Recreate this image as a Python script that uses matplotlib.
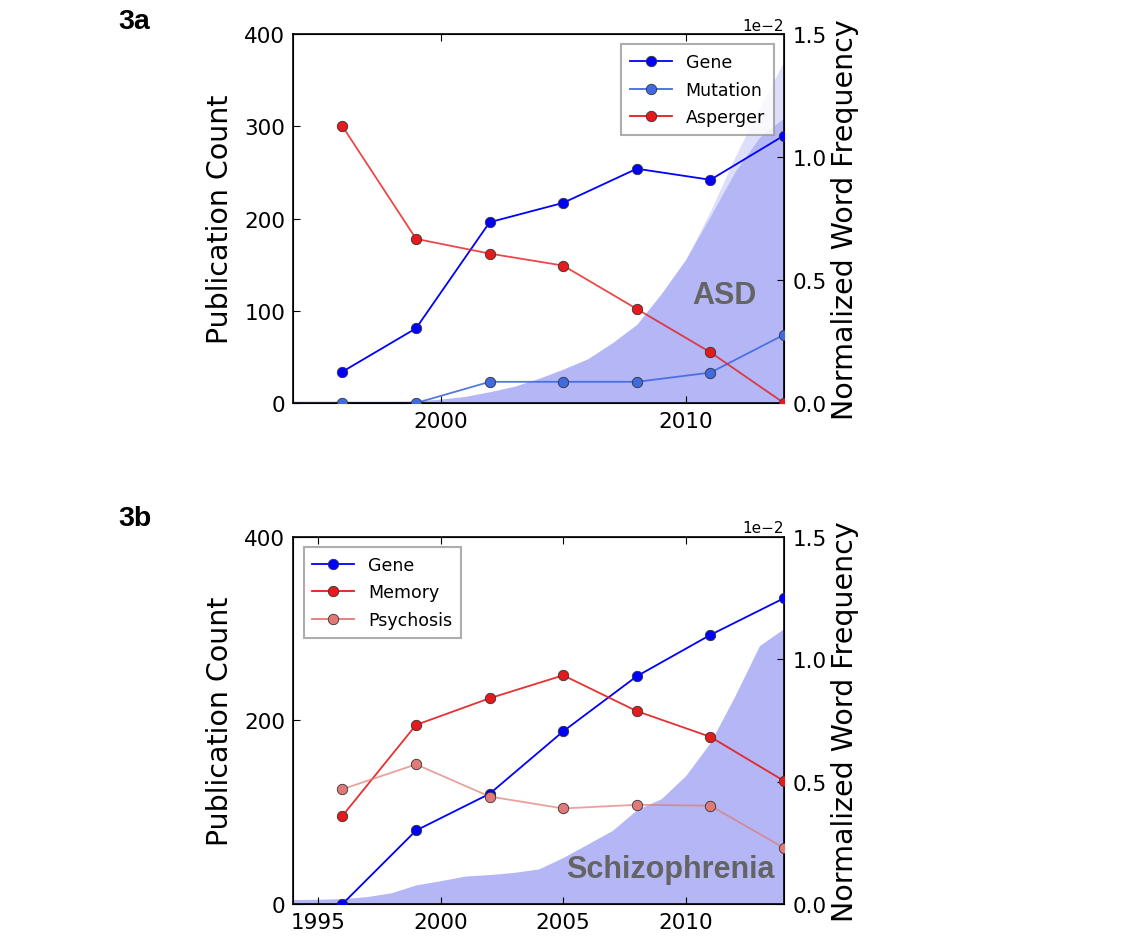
import numpy as np
import matplotlib
matplotlib.use('Agg')
import matplotlib.pyplot as plt

# publication counts (sampled every 3 years)
pub_years = [1996, 1999, 2002, 2005, 2008, 2011, 2014]

asd_gene = [34, 81, 196, 217, 254, 242, 290]
asd_mutation = [0, 0, 23, 23, 23, 33, 74]
asd_asperger = [300, 178, 162, 149, 102, 55, 0]

scz_gene = [0, 80, 120, 188, 248, 293, 333]
scz_memory = [96, 195, 224, 249, 210, 182, 134]
scz_psychosis = [125, 152, 117, 104, 108, 107, 61]

# normalized word frequency, yearly, in units of 1e-2
freq_years = list(range(1994, 2015))
asd_freq = [0.008, 0.008, 0.008, 0.008, 0.008, 0.009, 0.016, 0.027, 0.046, 0.068, 0.100,
            0.138, 0.180, 0.245, 0.320, 0.445, 0.585, 0.760, 0.940, 1.080, 1.160]
asd_freq_outer = [0.008, 0.008, 0.008, 0.008, 0.008, 0.009, 0.016, 0.027, 0.046, 0.068, 0.100,
                  0.138, 0.180, 0.245, 0.320, 0.445, 0.585, 0.780, 1.000, 1.200, 1.390]
scz_freq = [0.018, 0.019, 0.022, 0.030, 0.046, 0.078, 0.095, 0.114, 0.120, 0.129, 0.143,
            0.190, 0.245, 0.300, 0.385, 0.430, 0.525, 0.660, 0.850, 1.055, 1.125]

C_GENE = '#0000ff'
C_MUT = '#4169e1'
C_RED = '#e41a1c'
C_PSY = '#e07a76'
C_FILL = '#1d23e2'

plt.rcParams['font.family'] = ['DejaVu Sans']


def style_axes(ax, ax2):
    ax.tick_params(direction='in', length=5, labelsize=15.5, top=True, right=False, pad=6)
    ax2.tick_params(direction='in', length=5, labelsize=15.5, pad=6)
    for sp in ax.spines.values():
        sp.set_linewidth(1.2)
    ax.set_xlim(1994, 2014)
    ax2.set_ylim(0, 1.5e-2)
    ax2.set_yticks([0, 0.5e-2, 1.0e-2, 1.5e-2])
    ax2.ticklabel_format(axis='y', style='sci', scilimits=(0, 0))
    ax2.yaxis.get_offset_text().set_fontsize(11)
    ax.set_ylabel('Publication Count', fontsize=20.5, labelpad=7)
    ax2.set_ylabel('Normalized Word Frequency', fontsize=20.5, labelpad=3)
    # lines above the filled area
    ax.set_zorder(ax2.get_zorder() + 1)
    ax.patch.set_visible(False)


def draw_series(ax, y, color, label, line_alpha=1.0):
    ax.plot(pub_years, y, '-', color=color, lw=1.3, alpha=line_alpha, zorder=2)
    ax.plot(pub_years, y, 'o', color=color, ms=7.5, mec='#333333', mew=0.6, zorder=3)
    # proxy for the legend
    ax.plot([], [], '-o', color=color, lw=1.3, ms=7.5, mec='#333333', mew=0.6, label=label)


fig = plt.figure(figsize=(11.47, 9.37), dpi=100)

# ---- 3a ----
ax_a = fig.add_axes([0.2558, 0.5688, 0.4277, 0.3938])
ax_a2 = ax_a.twinx()
ax_a2.fill_between(freq_years, np.array(asd_freq) * 1e-2, np.array(asd_freq_outer) * 1e-2,
                   color=C_FILL, alpha=0.15, lw=0)
ax_a2.fill_between(freq_years, 0, np.array(asd_freq) * 1e-2, color=C_FILL, alpha=0.33, lw=0)
draw_series(ax_a, asd_gene, C_GENE, 'Gene')
draw_series(ax_a, asd_mutation, C_MUT, 'Mutation', 0.9)
draw_series(ax_a, asd_asperger, C_RED, 'Asperger', 0.8)
ax_a.set_ylim(0, 400)
ax_a.set_yticks([0, 100, 200, 300, 400])
ax_a.set_xticks([2000, 2010])
style_axes(ax_a, ax_a2)
ax_a.text(0.878, 0.293, 'ASD', transform=ax_a.transAxes, ha='center', va='center',
          fontsize=22, fontweight='bold', color='#646464', family='Liberation Sans')
leg = ax_a.legend(loc='upper right', fontsize=12.5, frameon=True, fancybox=False,
                  handlelength=2.4, borderpad=0.5, labelspacing=0.55, borderaxespad=0.6)
leg.get_frame().set_edgecolor('#999999')
leg.get_frame().set_linewidth(1.5)

# ---- 3b ----
ax_b = fig.add_axes([0.2558, 0.0342, 0.4277, 0.392])
ax_b2 = ax_b.twinx()
ax_b2.fill_between(freq_years, 0, np.array(scz_freq) * 1e-2, color=C_FILL, alpha=0.33, lw=0)
draw_series(ax_b, scz_gene, C_GENE, 'Gene')
draw_series(ax_b, scz_memory, C_RED, 'Memory', 0.9)
draw_series(ax_b, scz_psychosis, C_PSY, 'Psychosis', 0.7)
ax_b.set_ylim(0, 400)
ax_b.set_yticks([0, 200, 400])
ax_b.set_xticks([1995, 2000, 2005, 2010])
style_axes(ax_b, ax_b2)
ax_b.text(0.769, 0.095, 'Schizophrenia', transform=ax_b.transAxes, ha='center', va='center',
          fontsize=22, fontweight='bold', color='#646464', family='Liberation Sans')
leg = ax_b.legend(loc='upper left', fontsize=12.5, frameon=True, fancybox=False,
                  handlelength=2.4, borderpad=0.5, labelspacing=0.55, borderaxespad=0.6)
leg.get_frame().set_edgecolor('#999999')
leg.get_frame().set_linewidth(1.5)

fig.text(0.1029, 0.990, '3a', ha='left', va='top', fontsize=20.5, fontweight='bold',
         family='Liberation Sans')
fig.text(0.1029, 0.460, '3b', ha='left', va='top', fontsize=20.5, fontweight='bold',
         family='Liberation Sans')

fig.savefig('out.png', dpi=100)
